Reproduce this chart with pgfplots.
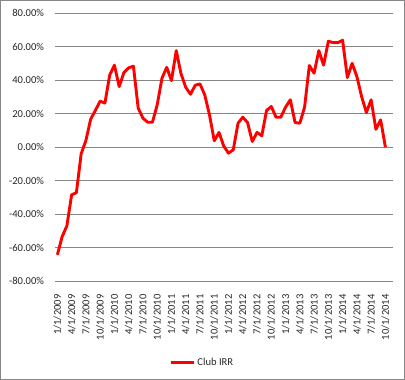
\documentclass[border=0pt]{standalone}
\usepackage{fontspec}
\setmainfont{Carlito}
\usepackage{pgfplots}
\pgfplotsset{compat=1.18}
\definecolor{gridc}{RGB}{134,134,134}
\definecolor{irr}{RGB}{255,0,0}
\pgfplotstableread{
i v
0 -64.3
1 -53.5
2 -47.0
3 -28.5
4 -27.2
5 -4.0
6 4.0
7 16.7
8 22.0
9 27.5
10 26.3
11 43.0
12 49.0
13 36.2
14 44.6
15 47.4
16 48.4
17 23.3
18 17.3
19 14.9
20 14.9
21 25.3
22 41.2
23 47.7
24 39.8
25 57.7
26 44.0
27 35.8
28 31.6
29 37.0
30 37.8
31 31.2
32 19.3
33 3.8
34 8.8
35 0.6
36 -3.6
37 -1.6
38 14.3
39 17.9
40 14.7
41 3.4
42 8.8
43 6.8
44 21.9
45 24.3
46 17.9
47 17.9
48 23.9
49 28.3
50 14.7
51 14.3
52 23.9
53 48.8
54 44.2
55 57.7
56 49.0
57 63.3
58 62.5
59 62.5
60 63.9
61 41.6
62 50.1
63 42.2
64 30.2
65 20.7
66 28.3
67 10.7
68 16.3
69 0.0
}\irrdata
\begin{document}
\begin{tikzpicture}
\useasboundingbox (0,0) rectangle (405bp,380bp);
\draw[gridc, line width=0.75bp] (0.5bp,0.5bp) rectangle (404.5bp,379.5bp);
\begin{axis}[
  at={(55bp,99bp)}, anchor=south west,
  scale only axis, width=338bp, height=267.7bp,
  xmin=-0.5, xmax=70.6, ymin=-80, ymax=80,
  ytick={-80,-60,...,80},
  xtick={0,3,...,69},
  xticklabels={1/1/2009,4/1/2009,7/1/2009,10/1/2009,1/1/2010,4/1/2010,7/1/2010,10/1/2010,1/1/2011,4/1/2011,7/1/2011,10/1/2011,1/1/2012,4/1/2012,7/1/2012,10/1/2012,1/1/2013,4/1/2013,7/1/2013,10/1/2013,1/1/2014,4/1/2014,7/1/2014,10/1/2014},
  ymajorgrids, xmajorgrids=false,
  major grid style={gridc, line width=0.75bp},
  axis line style={draw=none}, major tick length=0pt,
  /pgf/number format/assume math mode=true,
  tick label style={font=\fontsize{10.6}{12}\selectfont, text=black!85},
  yticklabel={\pgfmathprintnumber[fixed,fixed zerofill,precision=2]{\tick}\%},
  yticklabel style={xshift=-7.5bp},
  xticklabel style={yshift=-10bp, rotate=90, anchor=east},
  legend style={at={(0.436,-0.303)}, anchor=center, draw=none, fill=none,
    font=\fontsize{10.6}{12}\selectfont, text=black!85},
  legend image code/.code={\draw[#1] (0bp,0bp) -- (23bp,0bp);},
]
\addplot[irr, line width=2.9bp, line join=round] table[x=i, y=v] {\irrdata};
\addlegendentry{Club IRR}
\end{axis}
\end{tikzpicture}
\end{document}
